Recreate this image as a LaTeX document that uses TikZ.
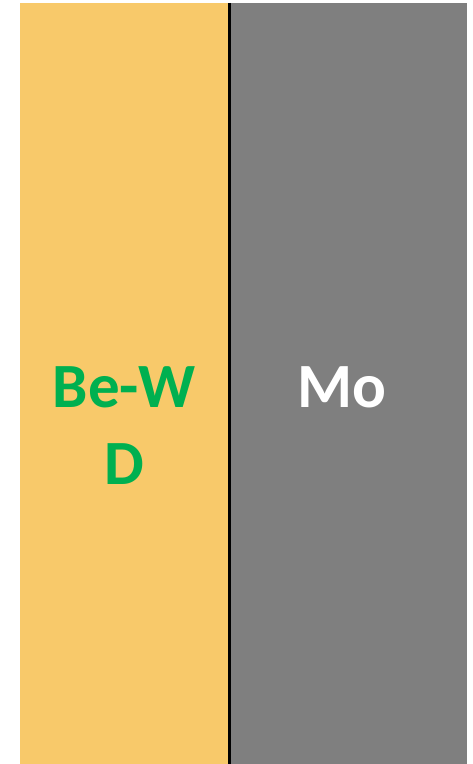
\documentclass[tikz,border=0pt]{standalone}
\usepackage{fontspec}
\setmainfont{Carlito}
\usepackage{tikz}
\usetikzlibrary{positioning}
\definecolor{bewfill}{HTML}{F8C96A}
\definecolor{mofill}{HTML}{7F7F7F}
\definecolor{bewtext}{HTML}{00B050}

\begin{document}
\begin{tikzpicture}[x = 1pt, y = 1pt,
        layer/.style = {inner sep = 0pt, outer sep = 0pt, minimum height = 761pt, anchor = south west},
        tag/.style = {font = \fontsize{63}{77}\selectfont\bfseries, align = center, inner sep = 0pt}]
        \useasboundingbox (0,0) rectangle (472,764);
        \node [layer, fill = bewfill, minimum width = 209pt] (BeW) at (20,0) {};
        \node [layer, fill = mofill, minimum width = 238pt, anchor = west] (Mo) [right = 0pt of BeW] {};
        \draw [line width = 3pt] (BeW.north east) -- (BeW.south east);

        \node [tag, text = bewtext, anchor = base] (BeWtext) at (124,279) {Be-W\\D};
        \node [tag, text = white, anchor = base] (Motext) at (342,356) {Mo};
    \end{tikzpicture}
\end{document}
